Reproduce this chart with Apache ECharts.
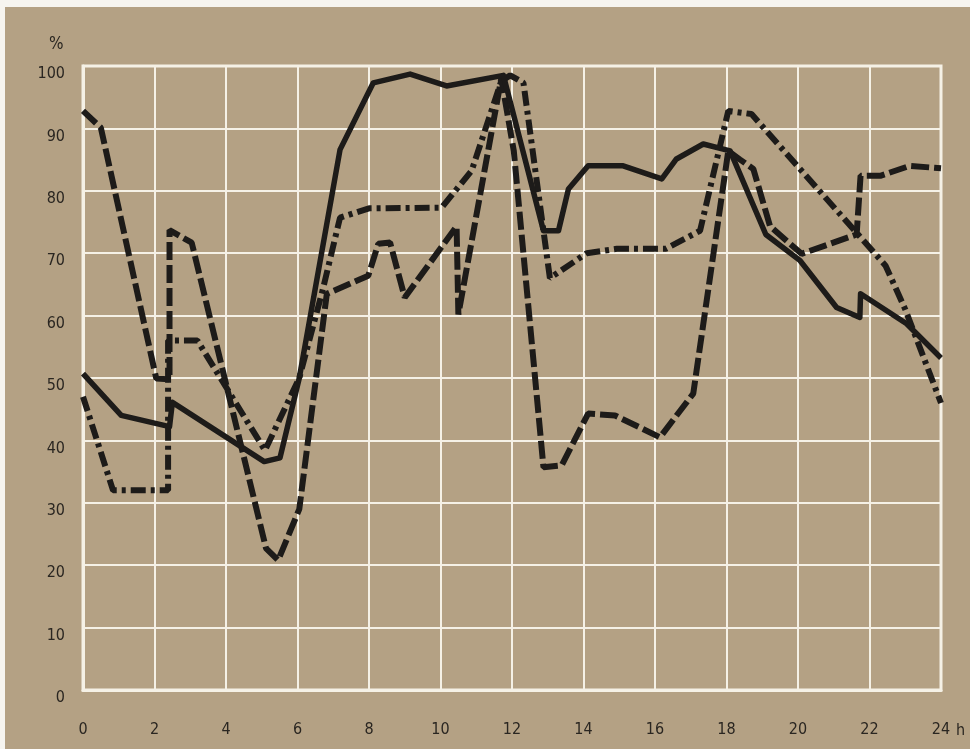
<!DOCTYPE html>
<html>
<head>
<meta charset="utf-8">
<script src="https://cdn.jsdelivr.net/npm/echarts@6/dist/echarts.min.js"></script>
<style>
  html, body { margin: 0; padding: 0; background: #f6f4ef; width: 970px; height: 749px; overflow: hidden; }
  #chart { position: absolute; left: 5px; top: 7px; width: 965px; height: 742px; background: #b4a184; }
</style>
</head>
<body>
<div id="chart"></div>
<script>
// Tick labels
const xTicks = [0, 2, 4, 6, 8, 10, 12, 14, 16, 18, 20, 22, 24];
const yTicks = [0, 10, 20, 30, 40, 50, 60, 70, 80, 90, 100];
const xUnit = 'h';
const yUnit = '%';

// Solid line (hours, %)
const solidHours = [0, 1.07, 2.42, 2.5, 5.07, 5.51, 6.05, 7.19, 8.12, 9.15, 10.17, 11.76, 12.88, 13.3, 13.58, 14.13, 15.11, 16.19, 16.6, 17.35, 18.1, 19.1, 20.06, 21.08, 21.73, 21.75, 23.04, 24];
const solidValues = [50.7, 44, 42.2, 46.1, 36.6, 37.2, 50, 86.6, 97.3, 98.7, 96.8, 98.5, 73.6, 73.6, 80.3, 84, 84, 81.9, 85.1, 87.5, 86.4, 73, 68.8, 61.3, 59.7, 63.5, 58.7, 53.2];

// Dashed line
const dashedHours = [0, 0.5, 2.05, 2.42, 2.42, 3.04, 5.12, 5.46, 6.05, 6.82, 7.98, 8.26, 8.59, 9.0, 10.45, 10.5, 11.7, 12.05, 12.88, 13.39, 14.13, 14.88, 16.14, 17.07, 18.05, 18.38, 18.75, 19.22, 20.1, 21.64, 21.75, 22.3, 23.13, 24];
const dashedValues = [92.8, 90.1, 49.9, 49.8, 73.7, 71.7, 22.7, 20.8, 29, 63.5, 66.4, 71.5, 71.7, 62.9, 74.3, 60.2, 98, 86.4, 35.7, 36, 44.3, 44, 40.5, 47.5, 86.4, 85, 83.5, 74.3, 69.9, 73, 82.4, 82.4, 84, 83.6];

// Dash-dot line
const dashDotHours = [0, 0.84, 2.38, 2.38, 3.2, 5.09, 6.05, 6.7, 7.19, 8.0, 10.03, 10.87, 11.7, 11.95, 12.32, 13.06, 14.09, 14.93, 16.3, 17.26, 18.05, 18.7, 22.45, 23.0, 24];
const dashDotValues = [47, 32, 32, 56, 56, 38.4, 50, 64, 75.7, 77.2, 77.3, 83.2, 97.6, 98.5, 97.3, 66, 70, 70.7, 70.7, 73.6, 92.8, 92.3, 68, 61, 46];

function zip(h, v) { return h.map((x, i) => [x, v[i]]); }

const FONT = "'Liberation Sans Narrow', 'DejaVu Sans Condensed', 'Roboto Condensed', 'Liberation Sans', sans-serif";
const TXT = '#2a2621';
const INK = '#1d1b19';
const WHITE = '#f5f1e6';

const chart = echarts.init(document.getElementById('chart'), null, { renderer: 'canvas' });
chart.setOption({
  backgroundColor: 'transparent',
  animation: false,
  grid: { left: 78, right: 29, top: 59, bottom: 59, show: true, borderColor: WHITE, borderWidth: 3, backgroundColor: 'transparent' },
  graphic: [
    { type: 'text', left: 951, top: 716, style: { text: xUnit, fill: TXT, fontSize: 16, fontFamily: FONT } },
    { type: 'text', left: 44, top: 29, style: { text: yUnit, fill: TXT, fontSize: 17, fontFamily: FONT } }
  ],
  xAxis: {
    type: 'value', min: 0, max: 24, interval: 2,
    axisLine: { show: true, lineStyle: { color: WHITE, width: 3 } },
    axisTick: { show: false },
    splitLine: { show: true, lineStyle: { color: WHITE, width: 2 } },
    axisLabel: { color: TXT, fontSize: 16, fontFamily: FONT, margin: 32,
      formatter: v => xTicks.includes(v) ? String(v) : '' }
  },
  yAxis: {
    type: 'value', min: 0, max: 100, interval: 10,
    axisLine: { show: true, lineStyle: { color: WHITE, width: 3 } },
    axisTick: { show: false },
    splitLine: { show: true, lineStyle: { color: WHITE, width: 2 } },
    axisLabel: { color: TXT, fontSize: 16, fontFamily: FONT, margin: 18, verticalAlign: 'top',
      formatter: v => yTicks.includes(v) ? String(v) : '' }
  },
  series: [
    { type: 'line', data: zip(dashDotHours, dashDotValues), symbol: 'none', z: 3,
      lineStyle: { color: INK, width: 6, type: [15, 5, 4, 5], cap: 'butt', join: 'bevel' } },
    { type: 'line', data: zip(dashedHours, dashedValues), symbol: 'none', z: 3,
      lineStyle: { color: INK, width: 6, type: [18, 5], cap: 'butt', join: 'bevel' } },
    { type: 'line', data: zip(solidHours, solidValues), symbol: 'none', z: 4,
      lineStyle: { color: INK, width: 5.5, type: 'solid', cap: 'butt', join: 'round' } }
  ]
});
</script>
</body>
</html>
